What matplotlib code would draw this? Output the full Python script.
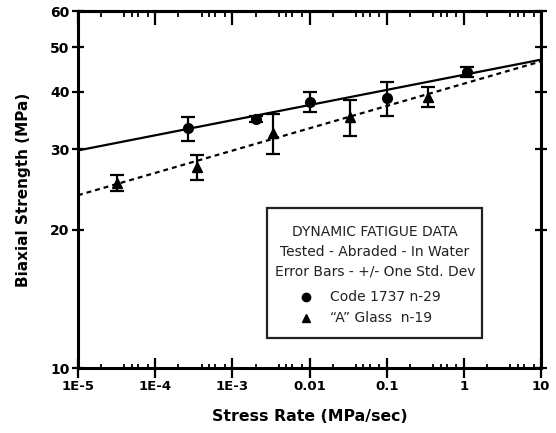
import matplotlib
matplotlib.use("Agg")
import matplotlib.pyplot as plt
from matplotlib.patches import Rectangle
from matplotlib.ticker import FixedLocator, NullFormatter

# ---- data ----
code_rate = [2.7e-4, 2.0e-3, 1.0e-2, 1.0e-1, 1.1]
code_str = [33.3, 34.9, 38.0, 38.7, 44.2]
code_err = [2.0, 0.5, 1.9, 3.3, 1.1]

a_rate = [3.2e-5, 3.5e-4, 3.4e-3, 3.3e-2, 3.4e-1]
a_str = [25.3, 27.4, 32.5, 35.2, 39.0]
a_err = [1.0, 1.7, 3.2, 3.1, 2.0]

fit_rate = [1e-5, 10]
code_fit = [29.8, 47.0]
a_fit = [23.8, 46.6]

xticks = [1e-5, 1e-4, 1e-3, 1e-2, 1e-1, 1, 10]
xticklabels = ["1E-5", "1E-4", "1E-3", "0.01", "0.1", "1", "10"]
minor_subs = [2, 4, 5, 6, 8]
yticks = [10, 20, 30, 40, 50, 60]
yticklabels = ["10", "20", "30", "40", "50", "60"]

legend_lines = ["DYNAMIC FATIGUE DATA", "Tested - Abraded - In Water",
                "Error Bars - +/- One Std. Dev"]
legend_entries = ["Code 1737 n-29", "\u201cA\u201d Glass  n-19"]

plt.rcParams['font.family'] = ['DejaVu Sans']

fig = plt.figure(figsize=(5.56, 4.33), dpi=100)
ax = fig.add_axes([78/556, 1 - 368/433, (541-78)/556, (368-11)/433])

ax.set_xscale('log')
ax.set_yscale('log')
ax.set_xlim(1e-5, 10)
ax.set_ylim(10, 60)

# fit lines
ax.plot(fit_rate, code_fit, color='black', lw=1.6, solid_capstyle='butt')
ax.plot(fit_rate, a_fit, color='black', lw=1.6, linestyle=(0, (2.2, 1.8)))

# data with error bars
ax.errorbar(code_rate, code_str, yerr=code_err, fmt='o', color='black',
            markersize=7, capsize=5, elinewidth=1.6, capthick=1.6)
ax.errorbar(a_rate, a_str, yerr=a_err, fmt='^', color='black',
            markersize=7, capsize=5, elinewidth=1.6, capthick=1.6)

minor_x = [d * s for d in xticks[:-1] for s in minor_subs]

# ticks
ax.xaxis.set_major_locator(FixedLocator(xticks))
ax.set_xticklabels(xticklabels)
ax.xaxis.set_minor_locator(FixedLocator(minor_x))
ax.xaxis.set_minor_formatter(NullFormatter())
ax.yaxis.set_major_locator(FixedLocator(yticks))
ax.set_yticklabels(yticklabels)
ax.yaxis.set_minor_locator(FixedLocator([]))

for lab in ax.get_xticklabels():
    lab.set_fontweight('bold')
    lab.set_fontsize(9.5)
for lab in ax.get_yticklabels():
    lab.set_fontweight('bold')
    lab.set_fontsize(10)

ax.tick_params(axis='x', which='major', direction='inout', length=14, width=1.6,
               bottom=True, top=False, pad=2)
ax.tick_params(axis='x', which='minor', direction='in', length=3, width=1.3,
               bottom=True, top=False)
ax.tick_params(axis='y', which='major', direction='inout', length=8, width=1.6,
               left=True, right=True, labelright=False, pad=2)

sec = ax.secondary_xaxis('top')
sec.set_xscale('log')
sec.xaxis.set_major_locator(FixedLocator(xticks))
sec.xaxis.set_minor_locator(FixedLocator(minor_x))
sec.xaxis.set_major_formatter(NullFormatter())
sec.xaxis.set_minor_formatter(NullFormatter())
sec.tick_params(which='major', direction='in', length=10, width=1.6)
sec.tick_params(which='minor', direction='in', length=4, width=1.3)
sec.spines['top'].set_linewidth(2.2)

for s in ax.spines.values():
    s.set_linewidth(2.2)

ax.set_xlabel("Stress Rate (MPa/sec)", fontsize=11.3, fontweight='bold', labelpad=11)
ax.set_ylabel("Biaxial Strength (MPa)", fontsize=11, fontweight='bold', labelpad=14)

# legend box
bx0, by0, bx1, by1 = 0.408, 0.084, 0.873, 0.448
ax.add_patch(Rectangle((bx0, by0), bx1 - bx0, by1 - by0, transform=ax.transAxes,
                       fill=False, edgecolor='#222222', lw=1.6, zorder=5))
cx = 0.641
for txt, yy in zip(legend_lines, [0.381, 0.325, 0.269]):
    ax.text(cx, yy, txt, transform=ax.transAxes, ha='center', va='center',
            fontsize=10, color='#222222')
for txt, yy, mk in zip(legend_entries, [0.199, 0.140], ['o', '^']):
    ax.plot([0.493], [yy], marker=mk, color='black', markersize=6,
            transform=ax.transAxes, clip_on=False)
    ax.text(0.544, yy, txt, transform=ax.transAxes, ha='left', va='center',
            fontsize=10, color='#222222')

fig.savefig("out.png", dpi=100)
